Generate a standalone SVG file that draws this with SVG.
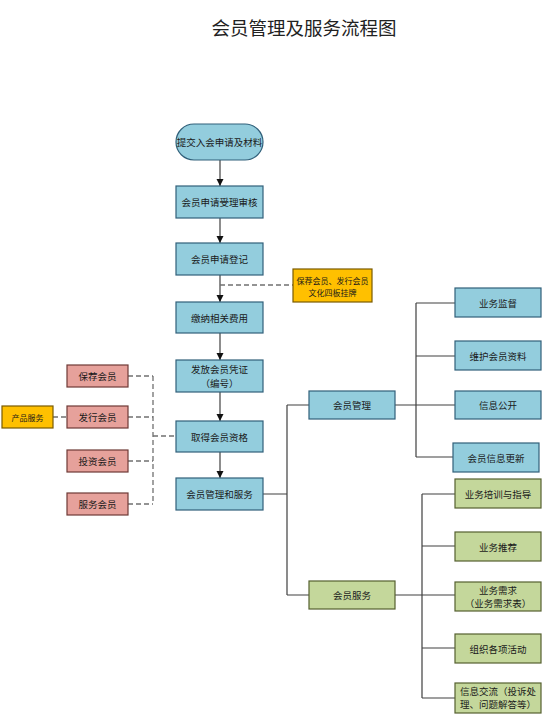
<svg xmlns="http://www.w3.org/2000/svg" width="550" height="714" viewBox="0 0 550 714">
<style>
text{font-family:"Noto Sans CJK SC","Noto Sans",sans-serif;font-size:9.5px;fill:#1a1a1a;text-anchor:middle;dominant-baseline:central}
.title{font-size:18.5px;fill:#222}
.blue{fill:#93CDDD;stroke:#31607A;stroke-width:1.2}
.pink{fill:#E6A19B;stroke:#6E3A36;stroke-width:1.2}
.green{fill:#C4D79B;stroke:#55602F;stroke-width:1.2}
.yellow{fill:#FFC000;stroke:#7A5A00;stroke-width:1.2}
.ln{fill:none;stroke:#404040;stroke-width:1.2}
.dash{fill:none;stroke:#707070;stroke-width:1.3;stroke-dasharray:5,3}
.small{font-size:8px}
</style>
<defs>
<marker id="arr" viewBox="0 0 10 10" refX="10" refY="5" markerWidth="6" markerHeight="6" orient="auto"><path d="M0,0 L10,5 L0,10 z" fill="#111"/></marker>
</defs>
<rect width="550" height="714" fill="#fff"/>
<text class="title" x="304" y="27">会员管理及服务流程图</text>

<g id="connectors">
<path class="ln" d="M220,160 V186" marker-end="url(#arr)"/>
<path class="ln" d="M220,218 V243" marker-end="url(#arr)"/>
<path class="ln" d="M220,275 V302" marker-end="url(#arr)"/>
<path class="ln" d="M220,333 V360" marker-end="url(#arr)"/>
<path class="ln" d="M220,392 V421" marker-end="url(#arr)"/>
<path class="ln" d="M220,452 V478" marker-end="url(#arr)"/>
<path class="dash" d="M220,285 H293"/>
<path class="dash" d="M128,376 H153 M128,417 H153 M128,461 H153 M128,504 H153 M153,376 V504 M153,436 H176"/>
<path class="dash" d="M53,417 H67"/>
<path class="ln" d="M263,494 H287 M287,405 V595 M287,405 H309 M287,595 H309"/>
<path class="ln" d="M395,405 H455 M416,303 V457 M416,303 H455 M416,356 H455 M416,457 H453"/>
<path class="ln" d="M395,595 H455 M422,494 V698 M422,494 H455 M422,546 H455 M422,648 H455 M422,698 H455"/>
</g>

<g id="n1"><rect class="blue" x="176" y="124" width="87" height="36" rx="18"/><text x="219.5" y="142">提交入会申请及材料</text></g>
<g id="n2"><rect class="blue" x="176" y="186" width="87" height="32"/><text x="219.5" y="202">会员申请受理审核</text></g>
<g id="n3"><rect class="blue" x="176" y="243" width="87" height="32"/><text x="219.5" y="259">会员申请登记</text></g>
<g id="n4"><rect class="blue" x="176" y="302" width="87" height="31"/><text x="219.5" y="317.5">缴纳相关费用</text></g>
<g id="n5"><rect class="blue" x="176" y="360" width="87" height="32"/><text x="219.5" y="369">发放会员凭证</text><text x="219.5" y="383">（编号）</text></g>
<g id="n6"><rect class="blue" x="176" y="421" width="87" height="31"/><text x="219.5" y="436.5">取得会员资格</text></g>
<g id="n7"><rect class="blue" x="176" y="478" width="87" height="32"/><text x="219.5" y="494">会员管理和服务</text></g>

<g id="note"><rect class="yellow" x="293" y="269" width="79" height="33"/><text class="small" x="332.5" y="280">保荐会员、发行会员</text><text class="small" x="332.5" y="292">文化四板挂牌</text></g>

<g id="p1"><rect class="pink" x="67" y="365" width="61" height="22"/><text x="97.5" y="376">保荐会员</text></g>
<g id="p2"><rect class="pink" x="67" y="406" width="61" height="22"/><text x="97.5" y="417">发行会员</text></g>
<g id="p3"><rect class="pink" x="67" y="450" width="61" height="22"/><text x="97.5" y="461">投资会员</text></g>
<g id="p4"><rect class="pink" x="67" y="493" width="61" height="22"/><text x="97.5" y="504">服务会员</text></g>
<g id="prod"><rect class="yellow" x="2" y="406" width="51" height="22"/><text class="small" x="27.5" y="417">产品服务</text></g>

<g id="mgmt"><rect class="blue" x="309" y="391" width="86" height="28"/><text x="352" y="405">会员管理</text></g>
<g id="m1"><rect class="blue" x="455" y="288" width="86" height="29"/><text x="498" y="302.5">业务监督</text></g>
<g id="m2"><rect class="blue" x="455" y="341" width="86" height="29"/><text x="498" y="355.5">维护会员资料</text></g>
<g id="m3"><rect class="blue" x="455" y="391" width="86" height="28"/><text x="498" y="405">信息公开</text></g>
<g id="m4"><rect class="blue" x="453" y="443" width="86" height="29"/><text x="496" y="457.5">会员信息更新</text></g>

<g id="svc"><rect class="green" x="309" y="581" width="86" height="28"/><text x="352" y="595">会员服务</text></g>
<g id="s1"><rect class="green" x="455" y="479" width="86" height="29"/><text x="498" y="493.5">业务培训与指导</text></g>
<g id="s2"><rect class="green" x="455" y="532" width="86" height="29"/><text x="498" y="546.5">业务推荐</text></g>
<g id="s3"><rect class="green" x="455" y="582" width="86" height="29"/><text x="498" y="590">业务需求</text><text x="498" y="603">（业务需求表）</text></g>
<g id="s4"><rect class="green" x="455" y="634" width="86" height="29"/><text x="498" y="648.5">组织各项活动</text></g>
<g id="s5"><rect class="green" x="455" y="683" width="86" height="30"/><text x="498" y="691">信息交流（投诉处</text><text x="498" y="704">理、问题解答等）</text></g>
</svg>
